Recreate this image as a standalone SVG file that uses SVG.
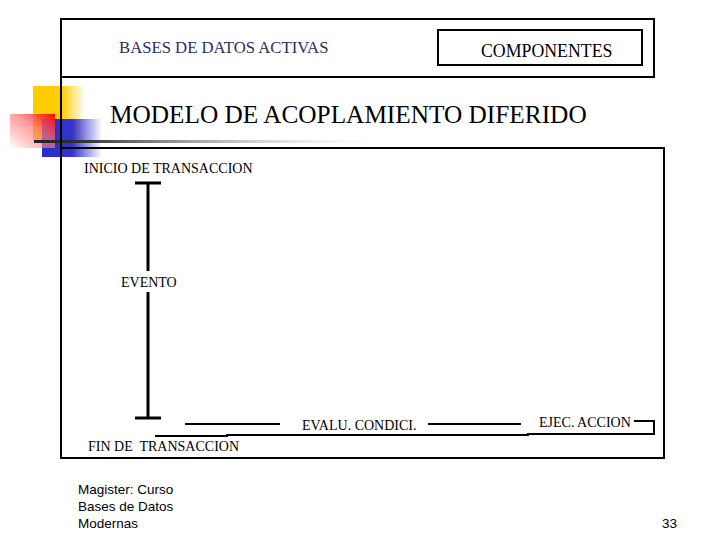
<svg xmlns="http://www.w3.org/2000/svg" width="720" height="540" viewBox="0 0 720 540">
<defs>
<linearGradient id="gY" x1="0" y1="0" x2="1" y2="0"><stop offset="0" stop-color="#ffcc00"/><stop offset="0.55" stop-color="#ffcc00"/><stop offset="1" stop-color="#ffcc00" stop-opacity="0"/></linearGradient>
<linearGradient id="gB" x1="0" y1="0" x2="1" y2="0"><stop offset="0" stop-color="#2b2bc8"/><stop offset="0.5" stop-color="#3333cc"/><stop offset="1" stop-color="#3333cc" stop-opacity="0"/></linearGradient>
<linearGradient id="gR" x1="0" y1="1" x2="1" y2="0"><stop offset="0" stop-color="#ff3030" stop-opacity="0"/><stop offset="0.55" stop-color="#ff5050" stop-opacity="0.55"/><stop offset="1" stop-color="#ff0000"/></linearGradient>
<linearGradient id="gG" x1="0" y1="0" x2="1" y2="0"><stop offset="0" stop-color="#222"/><stop offset="0.15" stop-color="#333"/><stop offset="1" stop-color="#ccc" stop-opacity="0"/></linearGradient>
<style>
.ln{stroke:#000;stroke-width:2;fill:none}
.lt{stroke:#000;stroke-width:3;fill:none}
.sf{font-family:"Liberation Serif","Times New Roman",serif;fill:#000}
.ss{font-family:"Liberation Sans",Arial,sans-serif;font-size:13.5px;fill:#000}
</style>
</defs>
<g id="decoration">
<rect x="33" y="86" width="52" height="55" fill="url(#gY)"/>
<rect x="42" y="119" width="60" height="38" fill="url(#gB)"/>
<rect x="10" y="114" width="45" height="34" fill="#fff" fill-opacity="0.35"/>
<rect x="10" y="114" width="45" height="34" fill="url(#gR)"/>
<rect x="34" y="140" width="340" height="3" fill="url(#gG)"/>
</g>
<g id="frame">
<rect x="61" y="19" width="593" height="58" class="ln"/>
<line x1="61" y1="77" x2="61" y2="458" class="ln"/>
<rect x="61" y="148" width="603" height="310" class="ln"/>
</g>
<g id="header">
<text x="119" y="53" class="sf" font-size="16.7" style="fill:#2e2e5e">BASES DE DATOS ACTIVAS</text>
</g>
<g id="componentes">
<rect x="438" y="30" width="204" height="35" class="ln"/>
<text x="481" y="57" class="sf" font-size="17.8">COMPONENTES</text>
</g>
<g id="title">
<text x="110" y="123" class="sf" font-size="25.3">MODELO DE ACOPLAMIENTO DIFERIDO</text>
</g>
<g id="inicio"><text x="84" y="173" class="sf" font-size="14">INICIO DE TRANSACCION</text></g>
<g id="evento"><text x="121" y="287" class="sf" font-size="14">EVENTO</text></g>
<g id="evalu"><text x="302" y="430" class="sf" font-size="14">EVALU. CONDICI.</text></g>
<g id="ejec"><text x="539" y="427" class="sf" font-size="14">EJEC. ACCION</text></g>
<g id="fin"><text x="88" y="451" class="sf" font-size="14" xml:space="preserve">FIN DE  TRANSACCION</text></g>
<g id="connectors">
<line x1="135" y1="183" x2="161" y2="183" class="lt"/>
<line x1="148" y1="183" x2="148" y2="271" class="lt"/>
<line x1="148" y1="292" x2="148" y2="418" class="lt"/>
<line x1="135" y1="418" x2="161" y2="418" class="lt"/>
<line x1="185" y1="424" x2="280" y2="424" class="ln"/>
<line x1="428" y1="424" x2="521" y2="424" class="ln"/>
<polyline points="155,436 227,436 227,435 528,435 528,434 654,434 654,421 634,421" class="ln"/>
</g>
<g id="footer">
<text x="78" y="494" class="ss">Magister: Curso</text>
<text x="78" y="511" class="ss">Bases de Datos</text>
<text x="78" y="528" class="ss">Modernas</text>
<text x="662" y="528" class="ss">33</text>
</g>
</svg>
